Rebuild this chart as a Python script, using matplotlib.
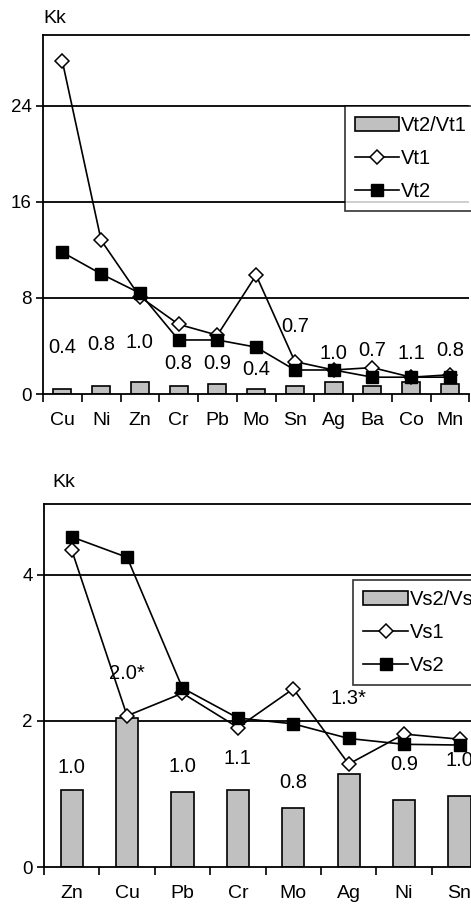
import matplotlib
matplotlib.use("Agg")
import matplotlib.pyplot as plt
import numpy as np

plt.rcParams['font.family'] = ['Liberation Sans', 'DejaVu Sans']

# upper chart
top_cats = ["Cu", "Ni", "Zn", "Cr", "Pb", "Mo", "Sn", "Ag", "Ba", "Co", "Mn"]
vt1 = [27.7, 12.8, 8.1, 5.8, 4.9, 9.9, 2.7, 2.0, 2.2, 1.4, 1.6]
vt2 = [11.8, 10.0, 8.4, 4.5, 4.5, 3.9, 2.0, 2.0, 1.4, 1.4, 1.4]
vt_ratio = [0.4, 0.7, 1.0, 0.7, 0.8, 0.4, 0.7, 1.0, 0.7, 1.0, 0.8]
vt_ratio_labels = ["0.4", "0.8", "1.0", "0.8", "0.9", "0.4", "0.7", "1.0", "0.7", "1.1", "0.8"]
vt_label_y = [3.9, 4.1, 4.25, 2.5, 2.5, 2.0, 5.6, 3.4, 3.6, 3.4, 3.6]

# lower chart
bot_cats = ["Zn", "Cu", "Pb", "Cr", "Mo", "Ag", "Ni", "Sn"]
vs1 = [4.34, 2.07, 2.38, 1.91, 2.44, 1.41, 1.82, 1.75]
vs2 = [4.52, 4.24, 2.45, 2.04, 1.96, 1.76, 1.68, 1.67]
vs_ratio = [1.05, 2.04, 1.03, 1.05, 0.81, 1.27, 0.92, 0.97]
vs_ratio_labels = ["1.0", "2.0*", "1.0", "1.1", "0.8", "1.3*", "0.9", "1.0"]
vs_label_y = [1.36, 2.65, 1.37, 1.49, 1.16, 2.31, 1.40, 1.46]

fig = plt.figure(figsize=(4.71, 9.07), dpi=100)
ax1 = fig.add_axes([0.0913, 0.5656, 0.905, 0.3958])
ax2 = fig.add_axes([0.0934, 0.0441, 0.941, 0.4002])

bar_col = "#c0c0c0"


def draw(ax, cats, s1, s2, ratio, rlabels, ly, bw, ylim, yticks, names, leg_anchor):
    x = np.arange(len(cats))
    for y in yticks[1:]:
        ax.axhline(y, color="black", lw=1.3, zorder=1)
    b = ax.bar(x, ratio, width=bw, color=bar_col, edgecolor="black", lw=1.2,
               zorder=2, label=names[0])
    l1, = ax.plot(x, s1, color="black", lw=1.2, marker="D", markersize=7,
                  markerfacecolor="white", markeredgecolor="black",
                  markeredgewidth=1.1, zorder=3, label=names[1])
    l2, = ax.plot(x, s2, color="black", lw=1.2, marker="s", markersize=9,
                  markerfacecolor="black", zorder=4, label=names[2])
    for xi, t, yy in zip(x, rlabels, ly):
        ax.text(xi, yy, t, ha="center", va="center", fontsize=14.5, zorder=5)
    ax.set_xlim(-0.5, len(cats) - 0.5)
    ax.set_ylim(*ylim)
    ax.set_yticks(yticks)
    ax.set_yticklabels([str(v) for v in yticks], fontsize=13.5)
    ax.set_xticks(np.arange(len(cats) + 1) - 0.5)
    ax.set_xticklabels([])
    ax.set_xticks(x, minor=True)
    ax.set_xticklabels(cats, minor=True, fontsize=14)
    ax.tick_params(axis="x", which="major", direction="out", length=6, width=1.2)
    ax.tick_params(axis="x", which="minor", length=0, pad=13)
    ax.tick_params(axis="y", direction="out", length=5, width=1.2, pad=3)
    for sp in ["left", "bottom", "top"]:
        ax.spines[sp].set_linewidth(1.3)
    ax.spines["right"].set_visible(False)
    leg = ax.legend([b, l1, l2], names, loc="upper left",
                    bbox_to_anchor=leg_anchor, fontsize=14.5,
                    frameon=True, fancybox=False, edgecolor="black",
                    handlelength=2.2, handletextpad=0.1, borderpad=0.5,
                    labelspacing=0.7, borderaxespad=0)
    leg.get_frame().set_linewidth(1.2)
    leg.set_zorder(6)
    return ax.text(0.0, 1.045, "Kk", transform=ax.transAxes, fontsize=14,
                   ha="left", va="center")


draw(ax1, top_cats, vt1, vt2, vt_ratio, vt_ratio_labels, vt_label_y, 0.46,
     (0, 29.9), [0, 8, 16, 24], ["Vt2/Vt1", "Vt1", "Vt2"], (0.708, 0.803))
kk2 = draw(ax2, bot_cats, vs1, vs2, vs_ratio, vs_ratio_labels, vs_label_y, 0.4,
           (0, 4.97), [0, 2, 4], ["Vs2/Vs1", "Vs1", "Vs2"], (0.698, 0.791))
kk2.set_position((0.02, 1.06))

fig.savefig("out.png", dpi=100)
